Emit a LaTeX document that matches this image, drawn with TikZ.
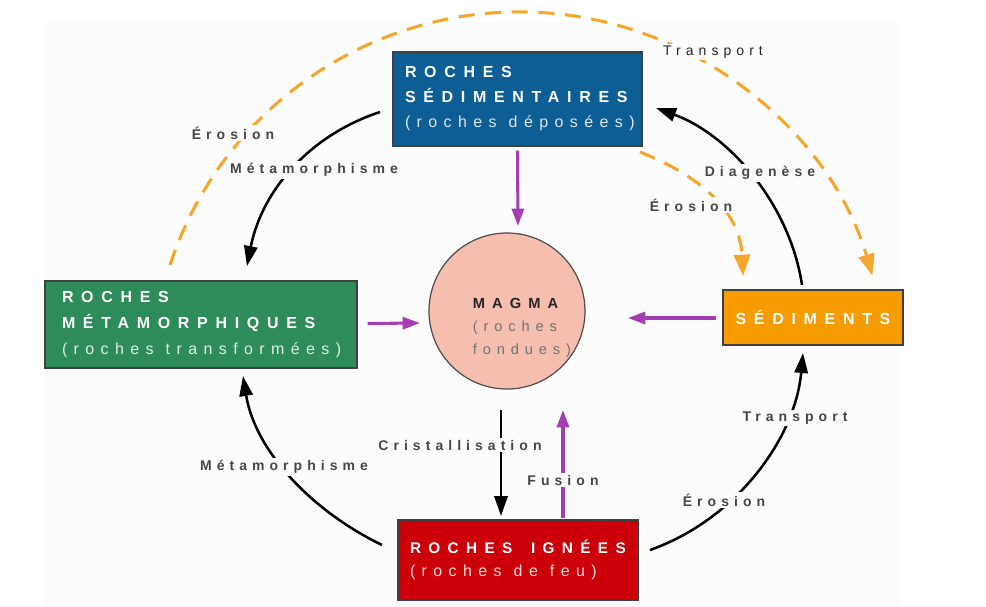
\documentclass[tikz,border=0pt]{standalone}
\usepackage{fontspec}
\setmainfont{Liberation Sans}
\newfontfamily\ttlfont{Liberation Sans}[LetterSpace=48]
\newfontfamily\subfont{Liberation Sans}[LetterSpace=40]
\newfontfamily\lblfont{Liberation Sans}[LetterSpace=36]
\newcommand{\wsp}{\hspace*{0.75em}}
\usetikzlibrary{arrows.meta}
\definecolor{bgc}{RGB}{252,252,252}
\definecolor{sedblue}{RGB}{12,94,148}
\definecolor{metgreen}{RGB}{46,140,90}
\definecolor{ignred}{RGB}{204,0,8}
\definecolor{sedorange}{RGB}{246,156,0}
\definecolor{magmafill}{RGB}{246,190,174}
\definecolor{dashorange}{RGB}{246,166,44}
\definecolor{purp}{RGB}{165,60,178}
\definecolor{lblgray}{RGB}{70,70,70}
\begin{document}
\begin{tikzpicture}[x=0.75pt,y=-0.75pt,
  box/.style={draw=black!75, line width=0.9pt, text=white, align=left, inner ysep=0pt,
    font=\ttlfont\bfseries\fontsize{12pt}{18.75pt}\selectfont},
  lbl/.style={fill=bgc, inner sep=1.5pt, text=lblgray, font=\lblfont\bfseries\fontsize{10.5pt}{12pt}\selectfont},
  blk/.style={line width=1.9pt, black, -{Triangle[length=15pt,width=10pt]}},
  prp/.style={line width=2.3pt, purp, -{Triangle[length=13pt,width=9pt]}},
  dsh/.style={line width=2.3pt, dashorange, dash pattern=on 12pt off 8pt, -{Triangle[length=16pt,width=12pt]}}
]
\useasboundingbox (0,0) rectangle (986,607);
\fill[bgc] (45,22) rectangle (900,605);

% boxes
\node[box, fill=sedblue, minimum width=186.75pt, minimum height=70.5pt, inner xsep=9pt, text width=168.75pt] (sed) at (517.5,99)
  {ROCHES\\ SÉDIMENTAIRES\\ {\subfont\mdseries\color{white!85!sedblue}\mbox{(roches\wsp déposées)}}};
\node[box, fill=metgreen, minimum width=234pt, minimum height=65.25pt, inner xsep=12.75pt, text width=208.5pt,
  font=\ttlfont\bfseries\fontsize{12pt}{19.5pt}\selectfont] (met) at (201,324.5)
  {ROCHES\\ MÉTAMORPHIQUES\\ {\subfont\mdseries\color{white!85!metgreen}\mbox{(roches\wsp transformées)}}};
\node[box, fill=sedorange, minimum width=135pt, minimum height=41.25pt, align=center] (sedim) at (813,317.5) {SÉDIMENTS};
\node[box, fill=ignred, minimum width=180pt, minimum height=60pt, inner xsep=9pt, text width=162pt,
  font=\ttlfont\bfseries\fontsize{11.5pt}{17.25pt}\selectfont] (ign) at (518,560)
  {\mbox{ROCHES}\rule{14pt}{0pt}\mbox{IGNÉES}\\ {\subfont\mdseries\fontsize{12pt}{17.25pt}\selectfont\color{white!85!ignred}\mbox{(roches\wsp de\wsp feu)}}};
\node[circle, draw=black!70, line width=0.9pt, fill=magmafill, minimum size=117pt, inner sep=0pt] (magma) at (507,311) {};
\node[align=left, inner sep=0pt, font=\ttlfont\fontsize{11pt}{17pt}\selectfont] (magmatxt) at (522,328)
  {{\bfseries\color{black!85}MAGMA}\\ {\subfont\color{black!55}(roches}\\ {\subfont\color{black!55}fondues)}};

% coordinates for connector ends
\coordinate (a1) at (380,112); \coordinate (a2) at (247,266);
\coordinate (b1) at (382,545); \coordinate (b2) at (243,376);
\coordinate (c1) at (650,550); \coordinate (c2) at (803,353);
\coordinate (d1) at (802,285); \coordinate (d2) at (656,108);
\coordinate (e1) at (640,152); \coordinate (e2) at (743,276);
\coordinate (f1) at (170,265);
\coordinate (cr1) at (501,410); \coordinate (cr2) at (501,516);
\coordinate (fu1) at (563,518); \coordinate (fu2) at (563,410);

% orange dashed
\draw[dsh] (f1) arc[start angle=-161.8, end angle=-16.5, radius=368];
\draw[dsh] (e1) .. controls (698,175) and (740,210) .. (e2);

% black curved
\draw[blk] (a1) .. controls (310,135) and (262,190) .. (a2);
\draw[blk] (b1) .. controls (310,510) and (255,450) .. (b2);
\draw[blk] (c1) .. controls (735,520) and (795,440) .. (c2);
\draw[blk] (d1) .. controls (790,205) and (730,135) .. (d2);
\draw[blk] (cr1) -- (cr2);

% purple
\draw[prp] (sed.south) ++(0,4) -- (518,226);
\draw[prp] (met.east) ++(10,-1) -- (420,323);
\draw[prp] (sedim.west) ++(-6,0.5) -- (628,318);
\draw[prp] (fu1) -- (fu2);

% labels
\node[lbl] (l1) at (233,133) {Érosion};
\node[lbl] (l2) at (314,170) {Métamorphisme};
\node[lbl, text=black!85, font=\lblfont\fontsize{10.5pt}{12pt}\selectfont] (l3) at (713,52) {Transport};
\node[lbl] (l4) at (760,173) {Diagenèse};
\node[lbl] (l5) at (691,205) {Érosion};
\node[lbl] (l6) at (460,445) {Cristallisation};
\node[lbl] (l7) at (563,480) {Fusion};
\node[lbl] (l8) at (284,467) {Métamorphisme};
\node[lbl] (l9) at (795,418) {Transport};
\node[lbl] (l10) at (724,500) {Érosion};
\end{tikzpicture}
\end{document}
